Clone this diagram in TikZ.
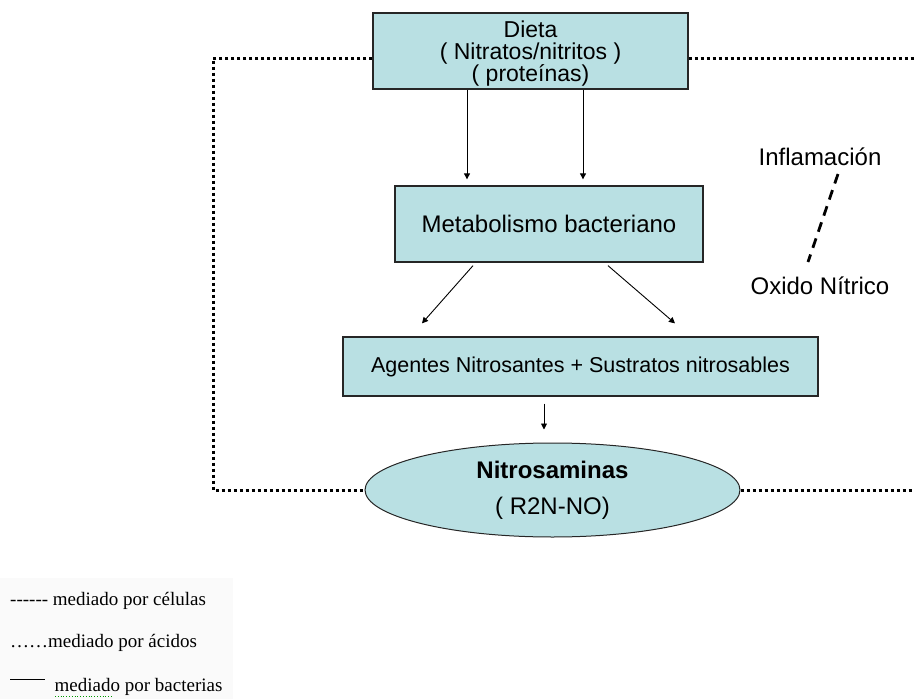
\documentclass[tikz,border=0pt]{standalone}
\usepackage{fontspec}
\setmainfont{Liberation Sans}
\newfontfamily\legendfont{Liberation Serif}
\usetikzlibrary{arrows.meta,shapes.geometric}
\definecolor{boxfill}{RGB}{185,224,227}

\begin{document}
\begin{tikzpicture}[x=1pt,y=-1pt,
    box/.style={draw=black!85,line width=1.3pt,fill=boxfill,inner sep=0pt,
        align=center,font=\fontsize{21.5}{24}\selectfont},
    flow/.style={-{Triangle[length=6pt,width=6pt]},line width=0.9pt},
    acid/.style={line width=3pt,dash pattern=on 3pt off 3pt},
    cell/.style={line width=2.8pt,dash pattern=on 10pt off 7pt},
    label/.style={font=\fontsize{24}{27}\selectfont},
    legend/.style={anchor=base west,inner sep=0pt,
        font=\legendfont\fontsize{19}{22}\selectfont}]

    \useasboundingbox (0,0) rectangle (914,699);
    \fill[black!2] (0,578) rectangle (233,699);

    \node[box,minimum width=315pt,minimum height=76pt,
        font=\fontsize{23}{21.5}\selectfont] (dieta) at (530.5,51)
        {\rule{0pt}{22pt}Dieta\\( Nitratos/nitritos )\\( proteínas)};
    \node[box,minimum width=308pt,minimum height=76pt,
        font=\fontsize{24}{27}\selectfont] (metab) at (549,224)
        {Metabolismo bacteriano};
    \node[box,minimum width=475pt,minimum height=59pt] (agentes) at (580.5,366.5)
        {Agentes Nitrosantes + Sustratos nitrosables};
    \node[box,ellipse,line width=1pt,minimum width=375pt,minimum height=94pt,
        font=\fontsize{24}{27}\selectfont] (nitro) at (552.5,490)
        {\textbf{Nitrosaminas}\\[9pt]( R2N-NO)};

    \node[label] (inflam) at (820,157) {Inflamación};
    \node[label] (oxido) at (820,286) {Oxido Nítrico};

    % flechas
    \draw[flow] ([xshift=-63.5pt]dieta.south) -- ([xshift=-82pt,yshift=6pt]metab.north);
    \draw[flow] ([xshift=52.5pt]dieta.south) -- ([xshift=34pt,yshift=6pt]metab.north);
    \draw[flow] ([xshift=-76pt,yshift=-3pt]metab.south) --
        ([xshift=-158.5pt,yshift=13pt]agentes.north);
    \draw[flow] ([xshift=59pt,yshift=-3pt]metab.south) --
        ([xshift=94.5pt,yshift=13pt]agentes.north);
    \draw[flow] ([xshift=-36.5pt,yshift=-7pt]agentes.south) --
        ([xshift=-8.5pt,yshift=13pt]nitro.north);

    % acidos
    \draw[acid] ([yshift=-7pt]dieta.west) -| (213,490) -- (nitro.west);
    \draw[acid] ([yshift=-7pt]dieta.east) -- (914,58);
    \draw[acid] (nitro.east) -- (914,490);

    % celulas
    \draw[cell] ([xshift=18pt,yshift=-17pt]inflam.center) --
        ([xshift=-12pt,yshift=24pt]oxido.center);

    % leyenda
    \node[legend] (leg1) at (10,605) {------ mediado por células};
    \node[legend] (leg2) at (10,647) {……mediado por ácidos};
    \node[legend] (leg3) at (10,691) {\rule[11pt]{35pt}{0.8pt}~ mediado por bacterias};
    \draw[green!60!black,line width=0.8pt,dotted] (55,696) -- (113,696);

\end{tikzpicture}
\end{document}
